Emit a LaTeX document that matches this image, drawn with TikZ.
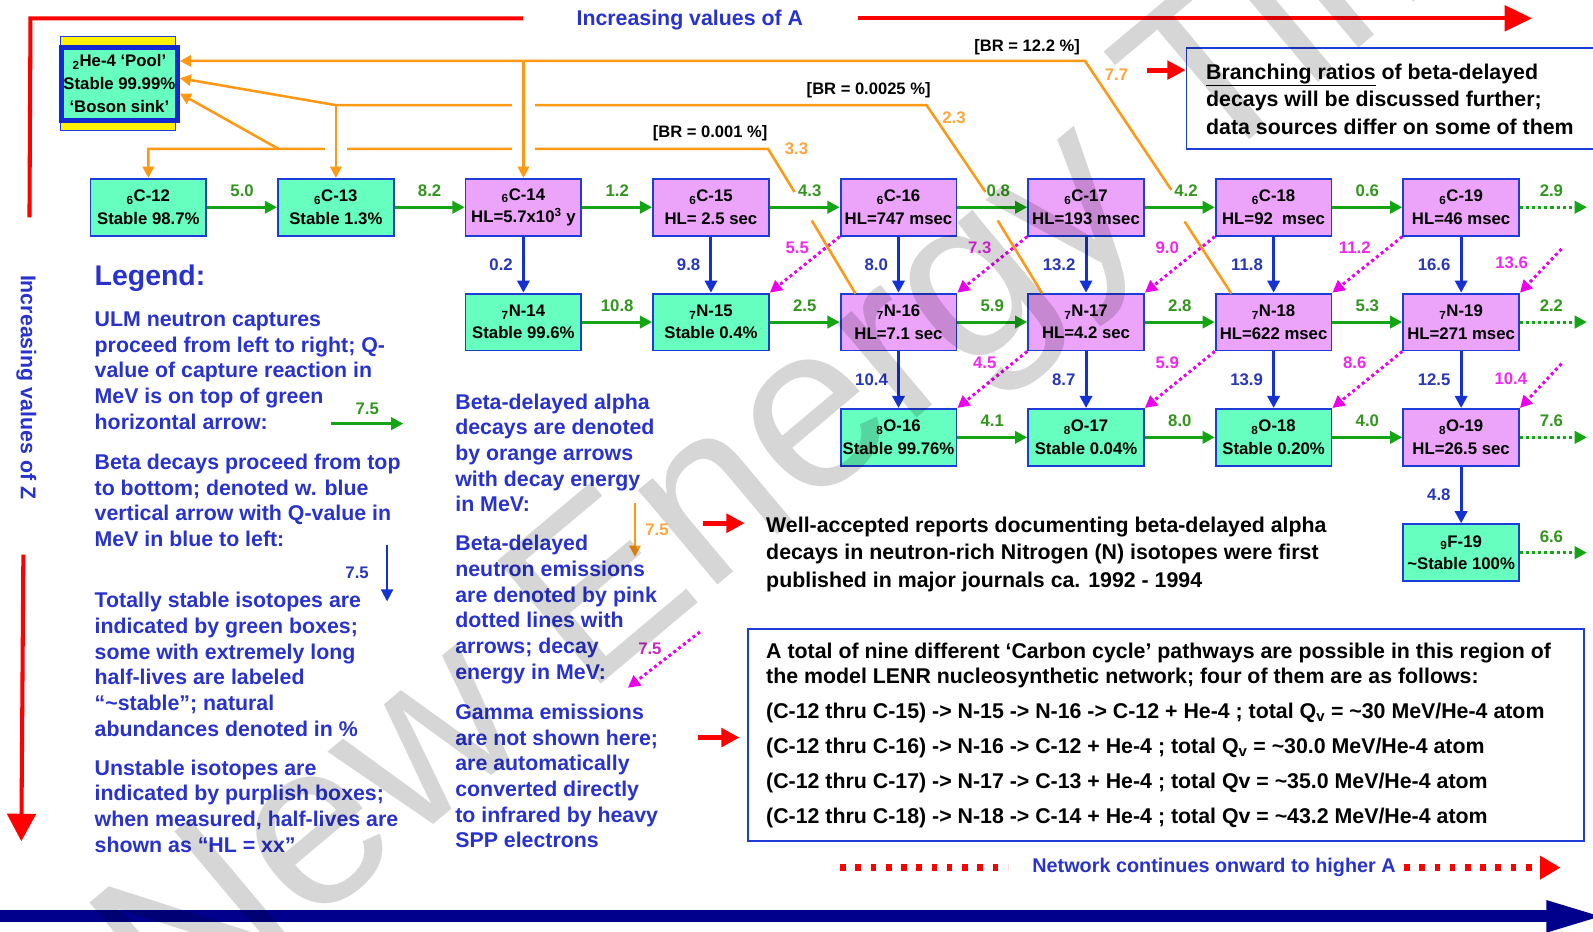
\documentclass[tikz,border=0pt]{standalone}
\usepackage{fontspec}
\setmainfont{Liberation Sans}
\usetikzlibrary{arrows.meta}
\definecolor{boxblue}{RGB}{30,60,215}
\definecolor{heblue}{RGB}{20,40,210}
\definecolor{gfill}{RGB}{102,255,191}
\definecolor{pfill}{RGB}{236,164,250}
\definecolor{garr}{RGB}{20,165,20}
\definecolor{glabc}{RGB}{50,150,30}
\definecolor{barr}{RGB}{20,50,210}
\definecolor{blabc}{RGB}{40,55,185}
\definecolor{oarr}{RGB}{255,152,20}
\definecolor{olabc}{RGB}{255,165,60}
\definecolor{parr}{RGB}{235,0,235}
\definecolor{plabc}{RGB}{240,40,240}
\definecolor{plegc}{RGB}{200,40,200}
\definecolor{legblue}{RGB}{40,50,205}
\definecolor{navybar}{RGB}{0,0,140}
\begin{document}
\begin{tikzpicture}[x=1pt,y=-1pt,
  iso/.style={draw=boxblue, line width=1.8pt, minimum width=114pt, minimum height=56pt, inner sep=0pt, align=center, font=\fontsize{16.5}{22}\selectfont\bfseries},
  stab/.style={iso, fill=gfill},
  unst/.style={iso, fill=pfill},
  numfont/.style={font=\fontsize{16.5}{18}\selectfont\bfseries, inner sep=0pt},
  garrow/.style={draw=garr, line width=3pt, -{Triangle[length=12pt,width=12pt]}},
  gdot/.style={garrow, dash pattern=on 3pt off 3pt},
  glab/.style={numfont, text=glabc, yshift=16pt},
  barrow/.style={draw=barr, line width=3pt, -{Triangle[length=12pt,width=12pt]}},
  blab/.style={numfont, text=blabc, anchor=east, xshift=-9pt},
  parrow/.style={draw=parr, line width=3pt, dash pattern=on 3pt off 3pt, -{Triangle[length=12pt,width=12pt]}},
  plab/.style={numfont, text=plabc, xshift=-33pt},
  oline/.style={draw=oarr, line width=2.5pt},
  oarrow/.style={oline, -{Triangle[length=11pt,width=11pt]}},
  obridge/.style={oarrow, preaction={draw=white, line width=22pt, -, shorten <=4pt}},
  olab/.style={numfont, text=olabc},
  brlab/.style={font=\fontsize{16.3}{18}\selectfont\bfseries, inner sep=0pt, text=black},
  redbig/.style={draw=red, line width=4pt},
  redsmall/.style={draw=red, line width=5pt, -{Triangle[length=18pt,width=18pt]}},
  legtext/.style={font=\fontsize{21}{25.3}\selectfont\bfseries, text=legblue, align=left, anchor=north west, inner sep=0pt},
  blktext/.style={font=\fontsize{21}{27}\selectfont\bfseries, text=black, align=left, anchor=north west, inner sep=0pt},
  framebox/.style={draw=boxblue, line width=1.8pt, anchor=north west, inner sep=0pt}
]
\useasboundingbox (0,0) rectangle (1568,917);

% ---------- He-4 pool ----------
\draw[fill=yellow, draw=boxblue, line width=1pt] (60,36) rectangle (173,128);
\node[draw=heblue, line width=5pt, fill=gfill, minimum width=114pt, minimum height=72pt, inner sep=0pt, align=center, font=\fontsize{16.5}{22.5}\selectfont\bfseries] (he) at (117.5,82.5) {\textsubscript{2}He-4 ‘Pool’\\Stable 99.99\%\\‘Boson sink’};

% ---------- isotope boxes ----------
\node[stab] (c12) at (146,204) {\textsubscript{6}C-12\\Stable 98.7\%};
\node[stab] (c13) at (330.6,204) {\textsubscript{6}C-13\\Stable 1.3\%};
\node[unst] (c14) at (515.2,204) {\textsubscript{6}C-14\\HL=5.7x10\textsuperscript{3} y};
\node[unst] (c15) at (699.8,204) {\textsubscript{6}C-15\\HL= 2.5 sec};
\node[unst] (c16) at (884.4,204) {\textsubscript{6}C-16\\HL=747 msec};
\node[unst] (c17) at (1069,204) {\textsubscript{6}C-17\\HL=193 msec};
\node[unst] (c18) at (1253.6,204) {\textsubscript{6}C-18\\HL=92\ \ msec};
\node[unst] (c19) at (1438.2,204) {\textsubscript{6}C-19\\HL=46 msec};
\node[stab] (n14) at (515.2,317) {\textsubscript{7}N-14\\Stable 99.6\%};
\node[stab] (n15) at (699.8,317) {\textsubscript{7}N-15\\Stable 0.4\%};
\node[unst] (n16) at (884.4,317) {\textsubscript{7}N-16\\HL=7.1 sec};
\node[unst] (n17) at (1069,317) {\textsubscript{7}N-17\\HL=4.2 sec};
\node[unst] (n18) at (1253.6,317) {\textsubscript{7}N-18\\HL=622 msec};
\node[unst] (n19) at (1438.2,317) {\textsubscript{7}N-19\\HL=271 msec};
\node[stab] (o16) at (884.4,430.5) {\textsubscript{8}O-16\\Stable 99.76\%};
\node[stab] (o17) at (1069,430.5) {\textsubscript{8}O-17\\Stable 0.04\%};
\node[stab] (o18) at (1253.6,430.5) {\textsubscript{8}O-18\\Stable 0.20\%};
\node[unst] (o19) at (1438.2,430.5) {\textsubscript{8}O-19\\HL=26.5 sec};
\node[stab] (f19) at (1438.2,544) {\textsubscript{9}F-19\\\textasciitilde Stable 100\%};

% ---------- neutron captures (green) ----------
\coordinate (gc19) at (1562,204);
\coordinate (gn19) at (1562,317);
\coordinate (go19) at (1562,430.5);
\coordinate (gf19) at (1562,544);
\draw[garrow] (c12) -- node[glab]{5.0} (c13);
\draw[garrow] (c13) -- node[glab]{8.2} (c14);
\draw[garrow] (c14) -- node[glab]{1.2} (c15);
\draw[garrow] (c15) -- node[glab, xshift=5pt]{4.3} (c16);
\draw[garrow] (c16) -- node[glab, xshift=6pt]{0.8} (c17);
\draw[garrow] (c17) -- node[glab, xshift=6pt]{4.2} (c18);
\draw[garrow] (c18) -- node[glab]{0.6} (c19);
\draw[gdot] (c19) -- node[glab, xshift=-2pt]{2.9} (gc19);
\draw[garrow] (n14) -- node[glab]{10.8} (n15);
\draw[garrow] (n15) -- node[glab]{2.5} (n16);
\draw[garrow] (n16) -- node[glab]{5.9} (n17);
\draw[garrow] (n17) -- node[glab]{2.8} (n18);
\draw[garrow] (n18) -- node[glab]{5.3} (n19);
\draw[gdot] (n19) -- node[glab, xshift=-2pt]{2.2} (gn19);
\draw[garrow] (o16) -- node[glab]{4.1} (o17);
\draw[garrow] (o17) -- node[glab]{8.0} (o18);
\draw[garrow] (o18) -- node[glab]{4.0} (o19);
\draw[gdot] (o19) -- node[glab, xshift=-2pt]{7.6} (go19);
\draw[gdot] (f19) -- node[glab, xshift=-2pt]{6.6} (gf19);

% ---------- beta decays (blue) ----------
\draw[barrow] (c14) -- node[blab]{0.2} (n14);
\draw[barrow] (c15) -- node[blab]{9.8} (n15);
\draw[barrow] (c16) -- node[blab]{8.0} (n16);
\draw[barrow] (c17) -- node[blab]{13.2} (n17);
\draw[barrow] (c18) -- node[blab]{11.8} (n18);
\draw[barrow] (c19) -- node[blab]{16.6} (n19);
\draw[barrow] (n16) -- node[blab]{10.4} (o16);
\draw[barrow] (n17) -- node[blab]{8.7} (o17);
\draw[barrow] (n18) -- node[blab]{13.9} (o18);
\draw[barrow] (n19) -- node[blab]{12.5} (o19);
\draw[barrow] (o19) -- node[blab]{4.8} (f19);

% ---------- beta-delayed neutron emission (pink) ----------
\coordinate (pn19) at (1537,245);
\coordinate (po19) at (1537,358);
\draw[parrow] (c16.south west) -- node[plab, pos=0.2, xshift=5pt]{5.5} (n15.north east);
\draw[parrow] (c17.south west) -- node[plab, pos=0.2]{7.3} (n16.north east);
\draw[parrow] (c18.south west) -- node[plab, pos=0.2]{9.0} (n17.north east);
\draw[parrow] (c19.south west) -- node[plab, pos=0.2]{11.2} (n18.north east);
\draw[parrow] (pn19) -- node[plab, pos=0.32, xshift=-3pt]{13.6} (n19.north east);
\draw[parrow] (n17.south west) -- node[plab, pos=0.2, xshift=5pt]{4.5} (o16.north east);
\draw[parrow] (n18.south west) -- node[plab, pos=0.2]{5.9} (o17.north east);
\draw[parrow] (n19.south west) -- node[plab, pos=0.2]{8.6} (o18.north east);
\draw[parrow] (po19) -- node[plab, pos=0.34, xshift=-3pt]{10.4} (o19.north east);

% ---------- beta-delayed alpha (orange) ----------
\coordinate (oa1) at (842,289); \coordinate (oa2) at (799,217);
\coordinate (oa3) at (782,189); \coordinate (oa4) at (756,146.5);
\coordinate (oa5) at (274,146.5);
\coordinate (ob1) at (1026,289); \coordinate (ob2) at (982,217);
\coordinate (ob3) at (970,189); \coordinate (ob4) at (912,103.5);
\coordinate (oc1) at (1212,289); \coordinate (oc2) at (1166,218);
\coordinate (oc3) at (1153,187); \coordinate (oc4) at (1068,60);
\draw[oline] (oa1) -- (oa2);
\draw[oline] (ob1) -- (ob2);
\draw[oline] (oc1) -- (oc2);
\draw[oarrow] (oa3) -- (oa4) -- (oa4 -| c12) -- (c12);
\draw[oarrow] (oa5) -- ([yshift=-9.5pt]he.east);
\draw[oline] (ob3) -- (ob4) -- (ob4 -| c13);
\draw[oarrow] (ob4 -| c13) -- ([yshift=5.5pt]he.east);
\draw[obridge] (ob4 -| c13) -- (c13);
\draw[oarrow] (oc3) -- (oc4) -- (oc4 -| he.east);
\draw[obridge] (oc4 -| c14) -- (c14);
\node[olab] (l33) at (784,146) {3.3};
\node[olab] (l23) at (939,116) {2.3};
\node[olab] (l77) at (1099,74) {7.7};
\node[brlab] (br1) at (699,131) {[BR = 0.001 \%]};
\node[brlab] (br2) at (855,89) {[BR = 0.0025 \%]};
\node[brlab] (br3) at (1011,46) {[BR = 12.2 \%]};

% ---------- axes ----------
\coordinate (ra) at (515,18); \coordinate (rb) at (30,18); \coordinate (rc) at (29,214);
\draw[redbig, line join=miter] (ra) -- (rb) -- (rc);
\node[font=\fontsize{21}{24}\selectfont\bfseries, text=legblue, inner sep=0pt] (incA) at (679,20) {Increasing values of A};
\coordinate (rd) at (845,18); \coordinate (re) at (1508,18);
\draw[redbig, -{Triangle[length=27pt,width=25pt]}] (rd) -- (re);
\node[font=\fontsize{21}{24}\selectfont\bfseries, text=legblue, inner sep=0pt, rotate=-90] (incZ) at (26,381) {Increasing values of Z};
\coordinate (rf) at (23,546); \coordinate (rg) at (21,828);
\draw[redbig, -{Triangle[length=27pt,width=28pt]}] (rf) -- (rg);

% ---------- legend ----------
\node[font=\fontsize{28}{30}\selectfont\bfseries, text=legblue, anchor=north west, inner sep=0pt] (leg) at (93,261) {Legend:};
\node[legtext] (lp1) at (93,306.7) {ULM neutron captures\\proceed from left to right; Q-\\value of capture reaction in\\MeV is on top of green\\horizontal arrow:};
\node[legtext] (lp2) at (93,446.7) {Beta decays proceed from top\\to bottom; denoted w. blue\\vertical arrow with Q-value in\\MeV in blue to left:};
\node[legtext] (lp3) at (93,582.7) {Totally stable isotopes are\\indicated by green boxes;\\some with extremely long\\half-lives are labeled\\“\textasciitilde stable”; natural\\abundances denoted in \%};
\node[legtext] (lp4) at (93,747.7) {Unstable isotopes are\\indicated by purplish boxes;\\when measured, half-lives are\\shown as “HL = xx”};
\node[legtext] (lm1) at (448,387.3) {Beta-delayed alpha\\decays are denoted\\by orange arrows\\with decay energy\\in MeV:};
\node[legtext] (lm2) at (448,526.7) {Beta-delayed\\neutron emissions\\are denoted by pink\\dotted lines with\\arrows; decay\\energy in MeV:};
\node[legtext] (lm3) at (448,692.7) {Gamma emissions\\are not shown here;\\are automatically\\converted directly\\to infrared by heavy\\SPP electrons};
\coordinate (lg1) at (326,417); \coordinate (lg2) at (397,417);
\draw[garrow] (lg1) -- node[glab, yshift=-1pt]{7.5} (lg2);
\coordinate (lb1) at (381,536); \coordinate (lb2) at (381,592);
\draw[barrow, line width=2pt] (lb1) -- node[blab, xshift=-8pt]{7.5} (lb2);
\coordinate (lo1) at (625,495); \coordinate (lo2) at (625,548);
\draw[oarrow] (lo1) -- node[olab, anchor=west, xshift=9pt]{7.5} (lo2);
\coordinate (lp1a) at (689,622); \coordinate (lp2a) at (618,677);
\draw[parrow] (lp1a) -- node[numfont, text=plegc, pos=0.3, xshift=-28pt]{7.5} (lp2a);

% ---------- notes ----------
\node[framebox, minimum width=420pt, minimum height=100pt] (brbox) at (1167,46) {};
\node[blktext] (brtext) at (1187,62.7) {\underline{Branching ratios} of beta-delayed\\decays will be discussed further;\\data sources differ on some of them};
\coordinate (rs1) at (1129,69);
\draw[redsmall] (rs1) -- (rs1 -| brbox.west);
\node[blktext] (wellacc) at (754,508.7) {Well-accepted reports documenting beta-delayed alpha\\decays in neutron-rich Nitrogen (N) isotopes were first\\published in major journals ca. 1992 - 1994};
\coordinate (rs2) at (692,515); \coordinate (rs2e) at (733,515);
\draw[redsmall] (rs2) -- (rs2e);
\node[framebox, minimum width=823pt, minimum height=209pt] (bigbox) at (735,618) {};
\node[blktext, font=\fontsize{21}{25}\selectfont\bfseries] (bigtxt1) at (754,632.7) {A total of nine different ‘Carbon cycle’ pathways are possible in this region of\\the model LENR nucleosynthetic network; four of them are as follows:};
\node[blktext, font=\fontsize{21}{34.6}\selectfont\bfseries] (bigtxt2) at (754,691.7) {(C-12 thru C-15) -> N-15 -> N-16 -> C-12 + He-4 ; total Q\textsubscript{v} = \textasciitilde 30 MeV/He-4 atom\\(C-12 thru C-16) -> N-16 -> C-12 + He-4 ; total Q\textsubscript{v} = \textasciitilde 30.0 MeV/He-4 atom\\(C-12 thru C-17) -> N-17 -> C-13 + He-4 ; total Qv = \textasciitilde 35.0 MeV/He-4 atom\\(C-12 thru C-18) -> N-18 -> C-14 + He-4 ; total Qv = \textasciitilde 43.2 MeV/He-4 atom};
\coordinate (rs3) at (687,726); \coordinate (rs3e) at (728,726);
\draw[redsmall] (rs3) -- (rs3e);

% ---------- network continues ----------
\node[font=\fontsize{19.5}{22}\selectfont\bfseries, text=legblue, anchor=west, inner sep=0pt] (netc) at (1016,854) {Network continues onward to higher A};
\coordinate (nd1) at (827,854); \coordinate (nd2) at (992,854);
\coordinate (nd3) at (1382,854); \coordinate (nd4) at (1536,854);
\draw[draw=red, line width=7pt, dash pattern=on 5.5pt off 9.5pt] (nd1) -- (nd2);
\draw[draw=red, line width=7pt, dash pattern=on 5.5pt off 9.5pt, -{Triangle[length=20pt,width=22pt]}] (nd3) -- (nd4);

% ---------- bottom bar ----------
\coordinate (bb1) at (-5,902); \coordinate (bb2) at (1580,902);
\draw[draw=navybar, line width=12pt, -{Triangle[length=58pt,width=28pt]}] (bb1) -- (bb2);

% ---------- watermark ----------
\node[anchor=base west, rotate=40, inner sep=0pt, font=\fontsize{230}{230}\selectfont, text=black, opacity=0.16] (wm) at (176,1022) {New Energy Times};
\end{tikzpicture}
\end{document}
